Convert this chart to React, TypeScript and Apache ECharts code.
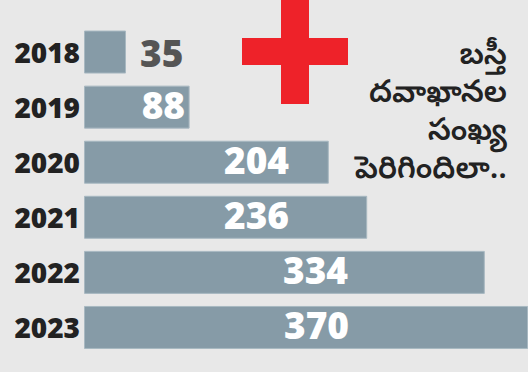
import React, { useEffect, useRef } from "react";
import * as echarts from "echarts";

const years = ["2018", "2019", "2020", "2021", "2022", "2023"];
const counts = [35, 88, 204, 236, 334, 370];
const titleLines = ["బస్తీ", "దవాఖానల", "సంఖ్య", "పెరిగిందిలా.."];

// label anchor (right edge, px from bar start) for each bar; null = outside the bar
const labelAnchors: (number | null)[] = [null, 101, 205, 205, 264, 265];

export default function App() {
  const ref = useRef<HTMLDivElement>(null);
  useEffect(() => {
    if (!ref.current) return;
    const chart = echarts.init(ref.current, undefined, { renderer: "svg" });
    const valueFont = {
      fontFamily: "'Open Sans', sans-serif",
      fontWeight: 800,
      fontSize: 37,
    };
    chart.setOption({
      animation: false,
      backgroundColor: "#e8e8e8",
      grid: { left: 84, right: 0, top: 24.5, bottom: 17, containLabel: false },
      xAxis: {
        type: "value",
        min: 0,
        max: 370,
        show: false,
      },
      yAxis: {
        type: "category",
        data: years,
        inverse: true,
        axisLine: { show: false },
        axisTick: { show: false },
        axisLabel: {
          margin: 4,
          color: "#222",
          fontFamily: "'Open Sans', sans-serif",
          fontWeight: 800,
          fontSize: 28,
        },
      },
      series: [
        {
          type: "bar",
          barWidth: 43,
          itemStyle: { color: "#869ba7", borderColor: "#a8b8c1", borderWidth: 1 },
          data: counts.map((v, i) => {
            const a = labelAnchors[i];
            return {
              value: v,
              label:
                a === null
                  ? { show: true, position: "right", distance: 14, color: "#555", ...valueFont }
                  : {
                      show: true,
                      position: [a, 19],
                      align: "right",
                      verticalAlign: "middle",
                      color: "#fff",
                      ...valueFont,
                    },
            };
          }),
        },
      ],
      graphic: [
        { type: "rect", shape: { x: 281, y: 0, width: 28, height: 104 }, style: { fill: "#ee2229" } },
        { type: "rect", shape: { x: 242, y: 38, width: 106, height: 27 }, style: { fill: "#ee2229" } },
        {
          type: "text",
          x: 507,
          y: 39,
          style: {
            text: titleLines.join("\n"),
            align: "right",
            verticalAlign: "top",
            fill: "#222",
            fontSize: 31,
            fontWeight: 600,
            lineHeight: 38,
            fontFamily: "'Noto Sans Telugu', 'Noto Sans', sans-serif",
          },
        },
      ],
    });
    return () => chart.dispose();
  }, []);
  return <div ref={ref} style={{ width: 528, height: 372, position: "absolute", left: 0, top: 0 }} />;
}
